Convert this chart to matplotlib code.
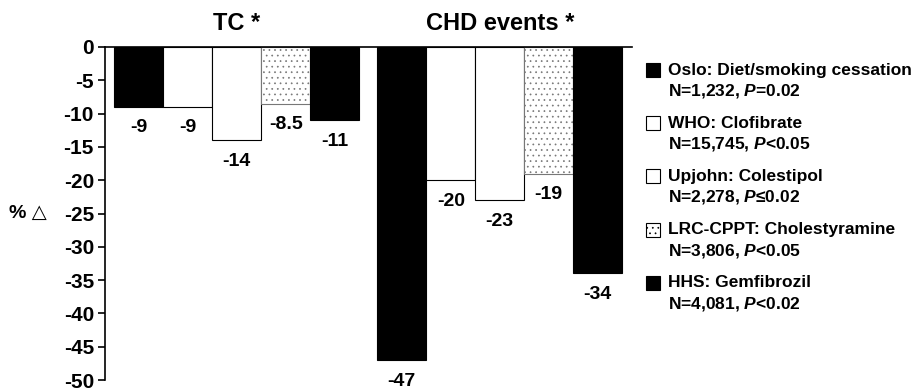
import numpy as np
import matplotlib
matplotlib.use("Agg")
import matplotlib.pyplot as plt
from matplotlib.patches import Rectangle

plt.rcParams['font.family'] = ['Liberation Sans', 'DejaVu Sans']
plt.rcParams['font.weight'] = 'bold'
plt.rcParams['mathtext.fontset'] = 'custom'
plt.rcParams['mathtext.rm'] = 'Liberation Sans:bold'
plt.rcParams['mathtext.it'] = 'Liberation Sans:italic:bold'
plt.rcParams['hatch.linewidth'] = 0.5

# datos
grupos = ["TC *", "CHD events *"]
estudios = ["Oslo: Diet/smoking cessation", "WHO: Clofibrate", "Upjohn: Colestipol",
            "LRC-CPPT: Cholestyramine", "HHS: Gemfibrozil"]
detalles = ["N=1,232, $P$=0.02", "N=15,745, $P$<0.05", "N=2,278, $P$\u22640.02",
            "N=3,806, $P$<0.05", "N=4,081, $P$<0.02"]
tc = [-9, -9, -14, -8.5, -11]
chd = [-47, -20, -23, -19, -34]
etiquetas_tc = ["-9", "-9", "-14", "-8.5", "-11"]
etiquetas_chd = ["-47", "-20", "-23", "-19", "-34"]
yticks = [0, -5, -10, -15, -20, -25, -30, -35, -40, -45, -50]

# estilos por estudio
relleno = ["black", "white", "white", "white", "black"]
borde = ["black", "black", "black", "#777777", "black"]
trama = [None, None, None, "...", None]

fig = plt.figure(figsize=(9.12, 3.9), dpi=100)
ax = fig.add_axes([105/912, 1-380/390, 527/912, 333/390])

x_tc = np.arange(5)
x_chd = np.arange(5) + 5.37

for xs, vals, labs in [(x_tc, tc, etiquetas_tc), (x_chd, chd, etiquetas_chd)]:
    for i in range(5):
        ax.bar(xs[i], vals[i], width=1.0, color=relleno[i], edgecolor=borde[i],
               linewidth=0.8, hatch=trama[i])
        ax.annotate(labs[i], (xs[i], vals[i]), xytext=(0, -9), textcoords="offset points",
                    ha="center", va="top", fontsize=14, fontweight="bold")

ax.set_xlim(-0.69, 10.07)
ax.set_ylim(-50, 0)
ax.set_yticks(yticks)
ax.set_yticklabels([str(t) for t in yticks], fontsize=15, fontweight="bold")
ax.set_xticks([])
ax.spines['right'].set_visible(False)
ax.spines['bottom'].set_visible(False)
ax.spines['top'].set_linewidth(1.2)
ax.spines['left'].set_linewidth(1.2)
ax.tick_params(axis='y', direction='out', length=5, width=1.2, pad=3)

ax.text(np.mean(x_tc), 1.072, grupos[0], transform=ax.get_xaxis_transform(),
        ha="center", va="center", fontsize=17, fontweight="bold")
ax.text(np.mean(x_chd), 1.072, grupos[1], transform=ax.get_xaxis_transform(),
        ha="center", va="center", fontsize=17, fontweight="bold")

fig.text(28/912, 1-213/390, "% \u25b3", ha="center", va="center", fontsize=14,
         fontweight="bold")

# leyenda
for i in range(5):
    yc = 70 + 53.2*i
    fig.patches.append(Rectangle((646/912, 1-(yc+7)/390), 14/912, 14/390,
                                 transform=fig.transFigure, facecolor=relleno[i],
                                 edgecolor="black", linewidth=0.8, hatch=trama[i]))
    fig.text(668/912, 1-yc/390, estudios[i], ha="left", va="center", fontsize=12.5,
             fontweight="bold")
    fig.text(668/912, 1-(yc+21)/390, detalles[i], ha="left", va="center", fontsize=12.5,
             fontweight="bold")

fig.savefig("out.png", dpi=100)
